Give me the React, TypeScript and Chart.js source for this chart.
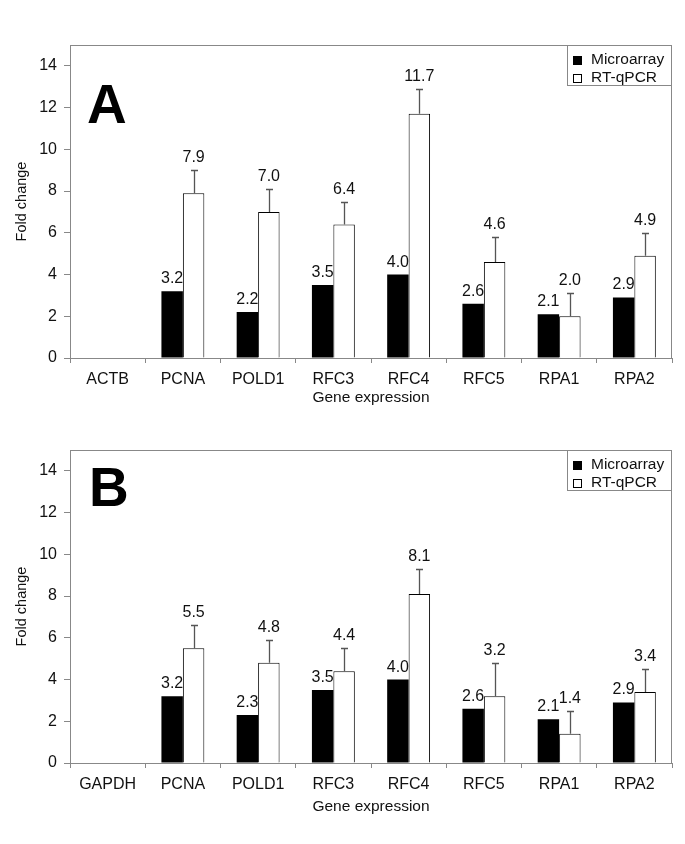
import React, { useEffect, useRef } from 'react';
import { Chart, registerables } from 'chart.js';
Chart.register(...registerables);

const FONT = '"Liberation Sans", Arial, sans-serif';

const categoriesA = ['ACTB', 'PCNA', 'POLD1', 'RFC3', 'RFC4', 'RFC5', 'RPA1', 'RPA2'];
const microarrayA = [null, 3.2, 2.2, 3.5, 4.0, 2.6, 2.1, 2.9];
const qpcrA = [null, 7.9, 7.0, 6.4, 11.7, 4.6, 2.0, 4.9];
const qpcrErrA = [null, 1.1, 1.1, 1.1, 1.2, 1.2, 1.1, 1.1];

const categoriesB = ['GAPDH', 'PCNA', 'POLD1', 'RFC3', 'RFC4', 'RFC5', 'RPA1', 'RPA2'];
const microarrayB = [null, 3.2, 2.3, 3.5, 4.0, 2.6, 2.1, 2.9];
const qpcrB = [null, 5.5, 4.8, 4.4, 8.1, 3.2, 1.4, 3.4];
const qpcrErrB = [null, 1.1, 1.1, 1.1, 1.2, 1.6, 1.1, 1.1];

const seriesNames = ['Microarray', 'RT-qPCR'];
const yMax = 15;
const yStep = 2;
const xTitle = 'Gene expression';
const yTitle = 'Fold change';

type Panel = {
  letter: string;
  categories: string[];
  micro: (number | null)[];
  qpcr: (number | null)[];
  err: (number | null)[];
  top: number;
  height: number;
  letterX: number;
  letterY: number;
  titlePad: number;
};

const panels: Panel[] = [
  { letter: 'A', categories: categoriesA, micro: microarrayA, qpcr: qpcrA, err: qpcrErrA, top: 0, height: 410, letterX: 87, letterY: 123, titlePad: 3 },
  { letter: 'B', categories: categoriesB, micro: microarrayB, qpcr: qpcrB, err: qpcrErrB, top: 405, height: 439, letterX: 89, letterY: 101, titlePad: 28 },
];

function ChartPanel({ p }: { p: Panel }) {
  const ref = useRef<HTMLCanvasElement | null>(null);
  useEffect(() => {
    if (!ref.current) return;
    const plotTop = 45;
    const plotBottom = 358;
    const decor = {
      id: 'decor',
      afterDatasetsDraw(chart: any) {
        const ctx = chart.ctx;
        const y = chart.scales.y;
        const ca = chart.chartArea;
        ctx.save();
        // error bars
        const m1 = chart.getDatasetMeta(1);
        ctx.strokeStyle = '#555';
        ctx.lineWidth = 1.3;
        m1.data.forEach((el: any, i: number) => {
          const v = p.qpcr[i];
          const e = p.err[i];
          if (v == null || e == null) return;
          const x = Math.round(el.x) + 0.5;
          const y0 = y.getPixelForValue(v);
          const y1 = Math.round(y.getPixelForValue(v + e)) + 0.5;
          ctx.beginPath();
          ctx.moveTo(x, y0);
          ctx.lineTo(x, y1);
          ctx.moveTo(x - 3.5, y1);
          ctx.lineTo(x + 3.5, y1);
          ctx.stroke();
        });
        // value labels
        ctx.fillStyle = '#111';
        ctx.font = '16px ' + FONT;
        ctx.textAlign = 'center';
        ctx.textBaseline = 'alphabetic';
        [0, 1].forEach((di) => {
          const meta = chart.getDatasetMeta(di);
          const vals = di === 0 ? p.micro : p.qpcr;
          meta.data.forEach((el: any, i: number) => {
            const v = vals[i];
            if (v == null) return;
            const e = di === 1 ? p.err[i] : null;
            const topVal = e != null ? v + e : v;
            ctx.fillText(v.toFixed(1), el.x, y.getPixelForValue(topVal) - 8);
          });
        });
        // plot border
        ctx.strokeStyle = '#888';
        ctx.lineWidth = 1;
        ctx.strokeRect(Math.round(ca.left) + 0.5, Math.round(ca.top) + 0.5, Math.round(ca.right - ca.left) - 1, Math.round(ca.bottom - ca.top));
        // legend
        const lw = 105;
        const lh = 40;
        const lx = Math.round(ca.right) - lw;
        const ly = Math.round(ca.top);
        ctx.fillStyle = '#fff';
        ctx.fillRect(lx, ly, lw, lh);
        ctx.strokeStyle = '#888';
        ctx.strokeRect(lx + 0.5, ly + 0.5, lw - 1, lh);
        ctx.fillStyle = '#000';
        ctx.fillRect(lx + 6, ly + 11, 9, 9);
        ctx.strokeStyle = '#000';
        ctx.strokeRect(lx + 6.5, ly + 29.5, 8, 8);
        ctx.textAlign = 'left';
        ctx.fillStyle = '#111';
        ctx.font = '15.5px ' + FONT;
        ctx.fillText(chart.data.datasets[0].label, lx + 24, ly + 19);
        ctx.fillText(chart.data.datasets[1].label, lx + 24, ly + 37);
        // panel letter
        ctx.fillStyle = '#000';
        ctx.font = 'bold 55px ' + FONT;
        ctx.fillText(p.letter, p.letterX, p.letterY);
        ctx.restore();
      },
    };
    const chart = new Chart(ref.current, {
      type: 'bar',
      data: {
        labels: p.categories,
        datasets: [
          { label: seriesNames[0], data: p.micro as any, backgroundColor: '#000', borderColor: '#000', borderWidth: 0 },
          { label: seriesNames[1], data: p.qpcr as any, backgroundColor: '#fff', borderColor: '#000', borderWidth: 1 },
        ],
      },
      options: {
        animation: false,
        responsive: false,
        maintainAspectRatio: false,
        datasets: { bar: { barPercentage: 1, categoryPercentage: 0.57 } },
        layout: { padding: { left: 0, right: 13, top: plotTop, bottom: 0 } },
        plugins: { legend: { display: false }, tooltip: { enabled: false } },
        scales: {
          x: {
            afterFit: (s: any) => { s.height = p.height - plotBottom; },
            grid: { drawOnChartArea: false, drawTicks: true, tickLength: 5, color: '#888', offset: true },
            border: { display: false },
            ticks: { color: '#111', font: { family: FONT, size: 16 }, padding: 7, maxRotation: 0, autoSkip: false },
            title: { display: true, text: xTitle, color: '#111', font: { family: FONT, size: 15.5 }, padding: { top: 0, bottom: p.titlePad } },
          },
          y: {
            min: 0,
            max: yMax,
            afterFit: (s: any) => { s.width = 70; },
            afterBuildTicks: (s: any) => { s.ticks = s.ticks.filter((t: any) => t.value <= 14); },
            grid: { drawOnChartArea: false, drawTicks: true, tickLength: 6, color: '#888' },
            border: { display: false },
            ticks: { stepSize: yStep, color: '#111', font: { family: FONT, size: 16 }, padding: 7 },
            title: { display: true, text: yTitle, color: '#111', font: { family: FONT, size: 14.5 }, padding: { top: 13, bottom: 0 } },
          },
        },
      },
      plugins: [decor],
    });
    return () => chart.destroy();
  }, [p]);
  return (
    <canvas
      ref={ref}
      width={685}
      height={p.height}
      style={{ position: 'absolute', left: 0, top: p.top, width: 685, height: p.height, display: 'block' }}
    />
  );
}

export default function App() {
  return (
    <div style={{ position: 'absolute', left: 0, top: 0, width: 685, height: 844, background: '#fff' }}>
      {panels.map((p) => (
        <ChartPanel key={p.letter} p={p} />
      ))}
    </div>
  );
}
